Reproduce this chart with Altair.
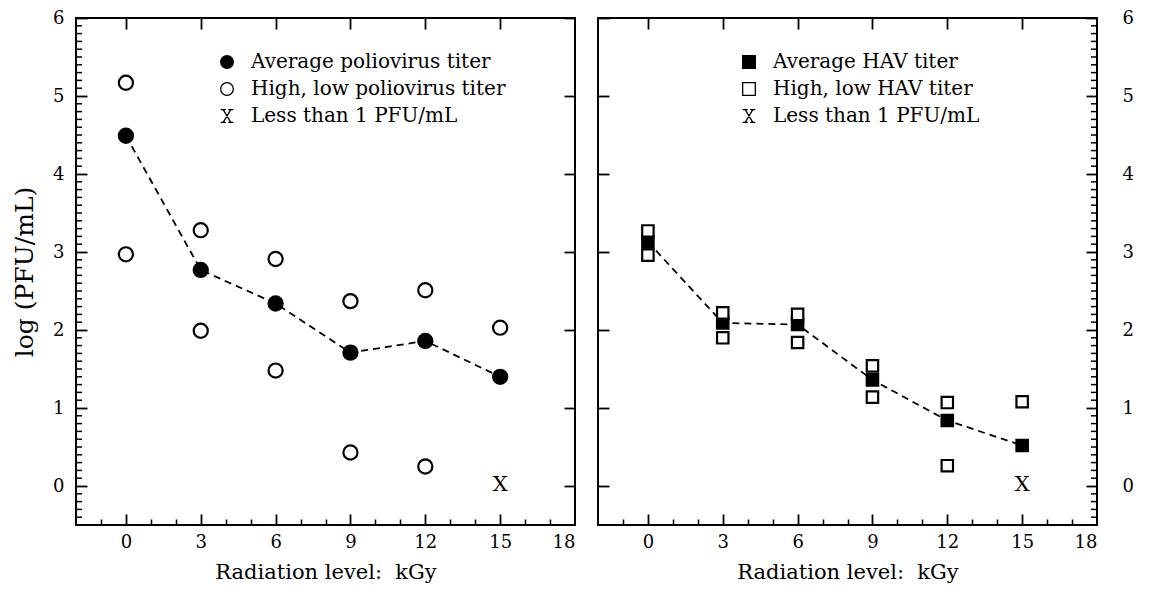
import altair as alt
import pandas as pd

# ---- data ----
levels = [0, 3, 6, 9, 12, 15]
polio_avg = [4.49, 2.77, 2.34, 1.71, 1.86, 1.40]
polio_high = [5.17, 3.28, 2.91, 2.37, 2.51, 2.03]
polio_low = [2.97, 1.99, 1.48, 0.43, 0.25, None]
hav_avg = [3.13, 2.09, 2.07, 1.36, 0.84, 0.52]
hav_high = [3.27, 2.22, 2.20, 1.54, 1.07, 1.08]
hav_low = [2.96, 1.90, 1.84, 1.14, 0.26, None]
below_x = [15]
below_y = [0]

polio_names = ["Average poliovirus titer", "High, low poliovirus titer", "Less than 1 PFU/mL"]
hav_names = ["Average HAV titer", "High, low HAV titer", "Less than 1 PFU/mL"]

FONT = "DejaVu Serif"
W, H = 499, 507
XDOM = [-2, 18]
YDOM = [-0.5, 6]
X_PATH = ("M-0.6,-1L0.6,1M0.6,-1L-0.6,1"
          "M-1,-1L-0.2,-1M0.2,-1L1,-1M-1,1L-0.2,1M0.2,1L1,1")

xs = alt.Scale(domain=XDOM, nice=False, zero=False)
ys = alt.Scale(domain=YDOM, nice=False, zero=False)

int_y = list(range(0, 7))
minor_y = [i / 10 for i in range(-4, 60) if i % 10 != 0]
major_x = [0, 3, 6, 9, 12, 15]
label_x = [0, 3, 6, 9, 12, 15, 18]
minor_x = [i for i in range(-1, 18) if i % 3 != 0]

XTITLE = "Radiation level:\u00a0 kGy"


def tick_axis(orient, values, size, offset, width=1.8):
    return alt.Axis(orient=orient, values=values, tickSize=size, offset=offset,
                    tickCount=1000, labels=False, domain=False, grid=False, title=None,
                    tickColor="black", tickWidth=width, tickOpacity=1)


def panel(avg, high, low, names, sym, left):
    rows = []
    for x, v in zip(levels, avg):
        rows.append({"x": x, "y": v, "series": names[0]})
    for x, v in zip(levels, high):
        if v is not None:
            rows.append({"x": x, "y": v, "series": names[1]})
    for x, v in zip(levels, low):
        if v is not None:
            rows.append({"x": x, "y": v, "series": names[1]})
    df = pd.DataFrame(rows)
    avg_df = pd.DataFrame({"x": levels, "y": avg})
    x_df = pd.DataFrame({"x": below_x, "y": below_y, "t": ["X"] * len(below_x)})
    edge = XDOM[0] if left else XDOM[1]
    minor_df = pd.DataFrame({"x": [edge] * len(minor_y), "y": minor_y})

    def ax_layer(xaxis, yaxis):
        return alt.Chart(avg_df).mark_point(opacity=0).encode(
            x=alt.X("x:Q", scale=xs, axis=xaxis),
            y=alt.Y("y:Q", scale=ys, axis=yaxis),
        )

    if left:
        y_lab = alt.Axis(orient="left", values=int_y, format="d", tickSize=0, domain=False,
                         grid=False, labelPadding=12, labelFont=FONT, labelFontSize=18,
                         labelColor="black", title="log (PFU/mL)", titleFont=FONT,
                         titleFontSize=25, titleFontWeight="normal", titleColor="black",
                         titlePadding=15)
        y_in_maj = tick_axis("right", int_y, 11, -W)
        y_other = tick_axis("left", int_y, 11, -W)
    else:
        y_lab = alt.Axis(orient="right", values=int_y, format="d", tickSize=0, domain=False,
                         grid=False, labelPadding=25, labelFont=FONT, labelFontSize=18,
                         labelColor="black", title=None)
        y_in_maj = tick_axis("left", int_y, 11, -W)
        y_other = tick_axis("right", int_y, 11, -W)

    x_lab = alt.Axis(orient="bottom", values=label_x, format="d", tickSize=0, domain=False,
                     grid=False, labelPadding=8, labelFont=FONT, labelFontSize=18,
                     labelColor="black", title=XTITLE, titleFont=FONT, titleFontSize=21,
                     titleFontWeight="normal", titleColor="black", titlePadding=10)
    x_bot_min = tick_axis("top", minor_x, 6, -H, 1.5)
    x_bot_maj = tick_axis("top", major_x, 11, -H)
    x_top = tick_axis("bottom", major_x, 11, -H)

    axes = [
        ax_layer(x_lab, y_lab),
        ax_layer(x_bot_min, None),
        ax_layer(x_bot_maj, y_in_maj),
        ax_layer(x_top, y_other),
    ]

    minor_ticks = alt.Chart(minor_df).mark_tick(
        orient="horizontal", size=6, thickness=1.5, color="black", opacity=1,
        xOffset=3 if left else -3
    ).encode(
        x=alt.X("x:Q", scale=xs, axis=None),
        y=alt.Y("y:Q", scale=ys, axis=None),
    )

    line = alt.Chart(avg_df).mark_line(
        color="black", strokeWidth=1.8, strokeDash=[7, 5], interpolate="linear"
    ).encode(
        x=alt.X("x:Q", scale=xs, axis=None),
        y=alt.Y("y:Q", scale=ys, axis=None),
    )

    leg = alt.Legend(orient="none", legendX=141, legendY=34, title=None,
                     labelFont=FONT, labelFontSize=20, labelColor="black", labelLimit=0,
                     symbolSize=160, symbolStrokeWidth=1.3, symbolStrokeColor="black",
                     rowPadding=7, labelOffset=14, padding=0)
    pts = alt.Chart(df).mark_point(
        strokeWidth=2.2, opacity=1, size=200 if sym == "circle" else 130
    ).encode(
        x=alt.X("x:Q", scale=xs, axis=None),
        y=alt.Y("y:Q", scale=ys, axis=None),
        shape=alt.Shape("series:N", scale=alt.Scale(domain=names, range=[sym, sym, X_PATH]),
                        legend=leg),
        fill=alt.Fill("series:N", scale=alt.Scale(domain=names, range=["black", "white", "transparent"]),
                      legend=leg),
        stroke=alt.Stroke("series:N", scale=alt.Scale(domain=names, range=["black", "black", "black"]),
                          legend=leg),
    )
    xmark = alt.Chart(x_df).mark_text(
        font=FONT, fontSize=21, color="black", align="center", baseline="middle", dy=-1
    ).encode(
        x=alt.X("x:Q", scale=xs, axis=None),
        y=alt.Y("y:Q", scale=ys, axis=None),
        text="t:N",
    )

    return alt.layer(*axes, minor_ticks, line, pts, xmark).resolve_axis(
        x="independent", y="independent"
    ).properties(width=W, height=H)


left = panel(polio_avg, polio_high, polio_low, polio_names, "circle", True)
right = panel(hav_avg, hav_high, hav_low, hav_names, "square", False)

chart = alt.hconcat(left, right, spacing=19).resolve_scale(
    shape="independent", fill="independent", stroke="independent"
).resolve_legend(
    shape="independent", fill="independent", stroke="independent"
).properties(
    padding={"left": 3, "top": 0, "right": 0, "bottom": 0}
).configure_view(stroke="black", strokeWidth=2)

chart.save("out.html", embed_options={"renderer": "svg", "actions": False})
